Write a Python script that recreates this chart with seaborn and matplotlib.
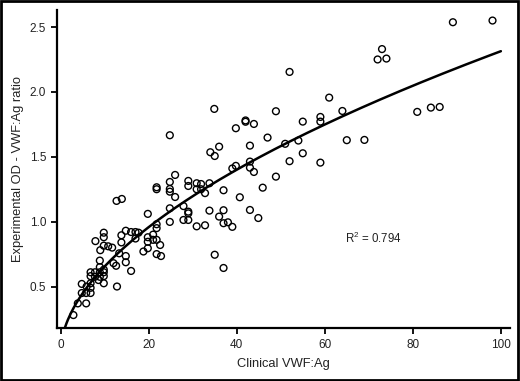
import numpy as np
import pandas as pd
import matplotlib
matplotlib.use("Agg")
import matplotlib.pyplot as plt
import seaborn as sns
from matplotlib.patches import Rectangle

# Clinical VWF:Ag (x) and Experimental OD - VWF:Ag ratio (y)
clinical = [
    2.9, 3.9, 5.8, 4.8, 4.8, 5.8, 6.8, 6.8, 6.8, 6.8, 6.8, 7.8, 7.8, 8.9, 8.9,
    9.8, 8.6, 9.8, 9.8, 8.9, 8.9, 9.8, 5.9, 7.9, 9.8, 9.8, 9.8, 9.0, 10.8, 11.7,
    13.3, 12.0, 12.6, 12.8, 12.7, 13.9, 13.8, 13.8, 14.8, 14.8, 14.8, 16.0, 16.0,
    17.0, 17.0, 17.7, 18.8, 19.8, 19.8, 19.8, 19.8, 21.0, 21.0, 21.8, 21.8, 21.8,
    21.8, 21.8, 21.8, 22.6, 22.8,
    24.8, 24.8, 24.8, 24.8, 24.8, 24.8, 26.0, 26.0, 27.9, 27.9, 29.0, 29.0, 29.0,
    29.0, 29.0, 30.9, 30.9, 30.9, 31.9, 31.9, 32.8, 32.8, 33.8, 33.8, 34.0, 35.0,
    35.0, 34.9, 36.0, 36.0, 37.0, 37.0, 37.0, 37.0, 38.0, 39.0, 39.0, 39.8, 39.8,
    40.7, 42.0, 42.0, 43.9, 43.0, 43.0, 43.0, 43.0, 43.9, 44.9, 45.9, 47.0, 48.9,
    48.9, 51.0, 52.0, 52.0, 54.0, 55.0, 55.0, 59.0, 59.0, 59.0, 61.0, 64.0, 65.0,
    69.0, 72.0, 73.0, 74.0, 81.0, 84.1, 86.1, 89.1, 98.1,
]
ratio = [
    0.28, 0.37, 0.37, 0.52, 0.45, 0.45, 0.45, 0.49, 0.525, 0.58, 0.61, 0.61, 0.575,
    0.61, 0.575, 0.61, 0.55, 0.58, 0.525, 0.65, 0.70, 0.63, 0.50, 0.85, 0.915,
    0.88, 0.815, 0.78, 0.81, 0.80,
    0.756, 0.68, 0.66, 0.50, 1.16, 1.175, 0.895, 0.84, 0.93, 0.735, 0.687, 0.92,
    0.62, 0.92, 0.87, 0.915, 0.77, 0.795, 1.06, 0.88, 0.845, 0.90, 0.86, 0.86,
    0.98, 0.95, 0.75, 1.265, 1.25, 0.82, 0.735,
    1.666, 1.306, 1.252, 1.231, 1.103, 0.998, 1.19, 1.36, 1.12, 1.013, 1.314,
    1.275, 1.077, 1.064, 1.013, 1.296, 1.25, 0.964, 1.29, 1.25, 1.22, 0.972,
    1.296, 1.085, 1.535, 1.506, 0.745, 1.869, 1.578, 1.039, 1.242, 1.088, 0.988,
    0.643, 0.995, 0.96, 1.41, 1.72, 1.43,
    1.188, 1.77, 1.78, 1.753, 1.586, 1.463, 1.416, 1.09, 1.383, 1.028, 1.262,
    1.648, 1.851, 1.347, 1.60, 2.154, 1.466, 1.625, 1.771, 1.527, 1.807, 1.771,
    1.455, 1.956, 1.853, 1.628, 1.63, 2.25, 2.33, 2.257, 1.846, 1.879, 1.884,
    2.537, 2.55,
]
x_ticks = [0, 20, 40, 60, 80, 100]
y_ticks = [0.5, 1.0, 1.5, 2.0, 2.5]
x_label = "Clinical VWF:Ag"
y_label = "Experimental OD - VWF:Ag ratio"
r2_text = "R$^2$ = 0.794"

df = pd.DataFrame({"clinical": clinical, "ratio": ratio})

# power-law fit y = a * x^b, least squares on the data
xs = np.asarray(clinical, float)
ys = np.asarray(ratio, float)
best = None
for b in np.linspace(0.3, 0.9, 601):
    xb = xs ** b
    a = np.sum(ys * xb) / np.sum(xb * xb)
    sse = np.sum((ys - a * xb) ** 2)
    if best is None or sse < best[0]:
        best = (sse, a, b)
_, fa, fb = best
grid = np.linspace(1.0, 100.0, 300)
fit_df = pd.DataFrame({"clinical": grid, "ratio": fa * grid ** fb})

sns.set_style("white")
plt.rcParams["font.family"] = ["Liberation Sans", "DejaVu Sans"]
plt.rcParams["mathtext.fontset"] = "custom"
plt.rcParams["mathtext.rm"] = "Liberation Sans"

fig = plt.figure(figsize=(5.2, 3.81), dpi=100)
ax = fig.add_axes([0.109, 0.140, 0.872, 0.834])

sns.scatterplot(data=df, x="clinical", y="ratio", ax=ax, marker="o",
                facecolors="none", edgecolor="black", linewidth=1.0, s=24,
                zorder=3)
sns.lineplot(data=fit_df, x="clinical", y="ratio", ax=ax, color="black",
             linewidth=1.8, zorder=4)

ax.set_xlim(-0.9, 102.1)
ax.set_ylim(0.183, 2.632)
ax.set_xticks(x_ticks)
ax.set_xticklabels([str(t) for t in x_ticks])
ax.set_yticks(y_ticks)
ax.set_yticklabels([f"{t:.1f}" for t in y_ticks])
ax.tick_params(axis="both", direction="out", length=4, width=1.3,
               labelsize=8.5, color="black", labelcolor="#222222",
               bottom=True, left=True)
ax.tick_params(axis="x", pad=4)
ax.tick_params(axis="y", pad=3.5)
for side in ["top", "right"]:
    ax.spines[side].set_visible(False)
for side in ["left", "bottom"]:
    ax.spines[side].set_linewidth(1.6)
    ax.spines[side].set_color("black")

ax.set_xlabel(x_label, fontsize=9.3, color="#222222", labelpad=5)
ax.set_ylabel(y_label, fontsize=9.3, color="#222222", labelpad=4)
ax.text(64.6, 0.874, r2_text, fontsize=8.3, color="#222222",
        ha="left", va="center")

fig.patches.append(Rectangle((0.002, 0.003), 0.995, 0.994, transform=fig.transFigure,
                             fill=False, edgecolor="black", linewidth=2.0))

fig.savefig("out.png", dpi=100)
